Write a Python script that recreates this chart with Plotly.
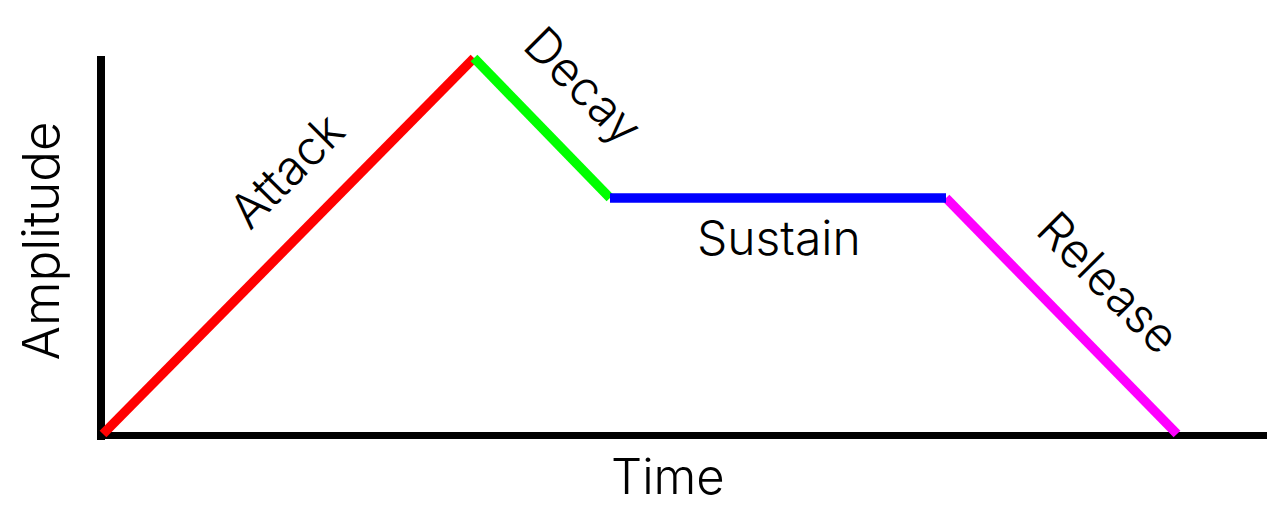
import plotly.graph_objects as go

# ADSR envelope (time units, amplitude units)
phases = ["Attack", "Decay", "Sustain", "Release"]
times = [0, 371, 507, 843, 1074]
amps = [0, 376, 236, 236, 0]
colors = ["#ff0000", "#00ff00", "#0000ff", "#ff00ff"]

# label positions (time, amplitude) and rotations
label_t = [183, 481, 676, 1006]
label_a = [264, 349, 197, 152]
label_angle = [-45, 45, 0, 45]

x_title = "Time"
y_title = "Amplitude"

FONT = "Inter, Lato, sans-serif"

fig = go.Figure()
order = [0, 1, 3, 2]
for i in order:
    fig.add_trace(go.Scatter(
        x=[times[i], times[i + 1]], y=[amps[i], amps[i + 1]],
        mode="lines", line=dict(color=colors[i], width=9.5),
        hoverinfo="skip", showlegend=False, name=phases[i]))

for i, p in enumerate(phases):
    fig.add_annotation(x=label_t[i], y=label_a[i], text=p, showarrow=False,
                       textangle=label_angle[i], xanchor="center", yanchor="middle",
                       font=dict(family=FONT, size=48, color="black", weight=300))

# axes drawn as thick black lines
fig.add_shape(type="line", x0=-2, x1=-2, y0=-6, y1=378,
              line=dict(color="black", width=8), layer="below")
fig.add_shape(type="line", x0=-6, x1=1164, y0=-1.5, y1=-1.5,
              line=dict(color="black", width=7), layer="below")

fig.add_annotation(x=0.527, y=0.058, xref="paper", yref="paper", text=x_title,
                   showarrow=False, xanchor="center", yanchor="middle",
                   font=dict(family=FONT, size=49, color="black", weight=300))
fig.add_annotation(x=0.032, y=0.524, xref="paper", yref="paper", text=y_title,
                   showarrow=False, textangle=-90, xanchor="center", yanchor="middle",
                   font=dict(family=FONT, size=51, color="black", weight=300))

fig.update_layout(
    width=1267, height=506,
    margin=dict(l=0, r=0, t=0, b=0),
    paper_bgcolor="white", plot_bgcolor="white",
    xaxis=dict(range=[-103, 1164], visible=False, fixedrange=True),
    yaxis=dict(range=[-72, 434], visible=False, fixedrange=True),
)

fig.write_html("out.html", config={"displayModeBar": False},
               post_script="document.body.style.margin='0';document.body.style.overflow='hidden';")
